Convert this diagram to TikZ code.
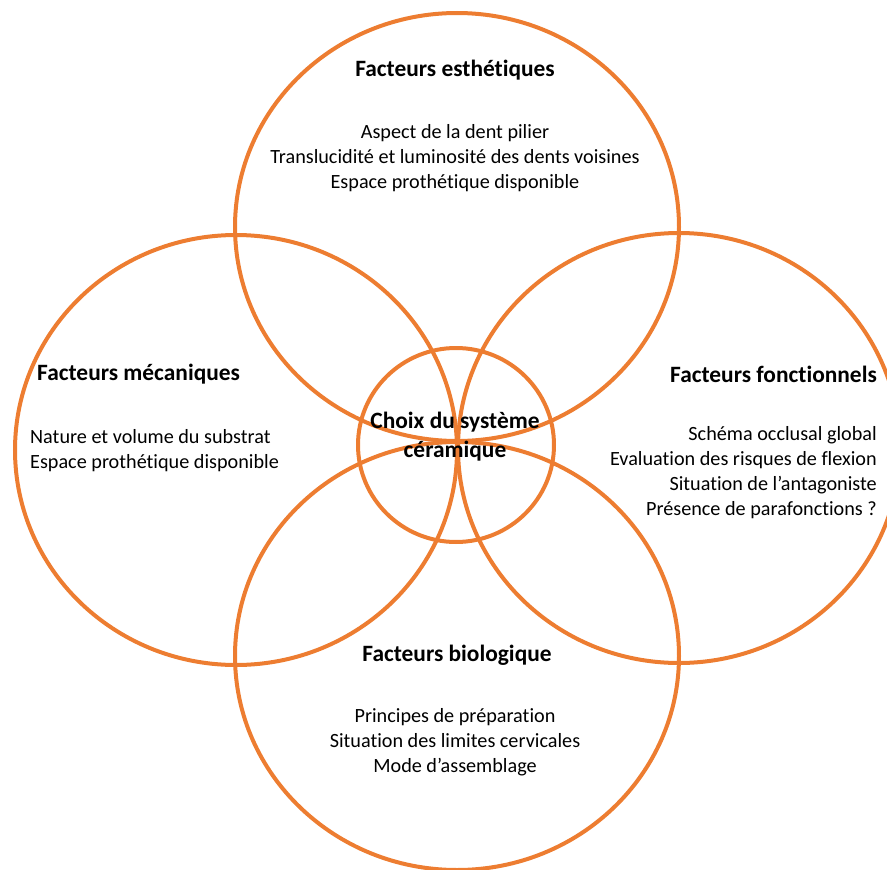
\documentclass[tikz,border=0pt]{standalone}
\usepackage{fontspec}
\setmainfont[Ligatures=NoCommon]{Carlito}
\usetikzlibrary{shapes.geometric}
\definecolor{ringorange}{HTML}{ED7D31}
\begin{document}
\begin{tikzpicture}[x=1pt,y=-1pt,
  ring/.style={ellipse,draw=ringorange,line width=4pt,inner sep=0pt,outer sep=0pt},
  head/.style={font=\fontsize{23.4}{29}\selectfont\bfseries,inner sep=0pt},
  body/.style={font=\fontsize{20.2}{24.8}\selectfont,inner sep=0pt}]
\useasboundingbox (0,0) rectangle (887,870);
\begin{scope}
\clip (0,0) rectangle (887,870);
\node[ring,minimum width=444pt,minimum height=428pt] (top) at (457,227) {};
\node[ring,minimum width=442pt,minimum height=430pt] (left) at (236,450) {};
\node[ring,minimum width=442pt,minimum height=430pt] (right) at (679,448) {};
\node[ring,minimum width=444pt,minimum height=428pt] (bottom) at (457,656) {};
\node[ring,minimum width=196pt,minimum height=194pt] (core) at (456,445) {};
\end{scope}
\node[head] (tH) at (455,70) {Facteurs esthétiques};
\node[body,align=center] (tB) at (455,158) {Aspect de la dent pilier\\Translucidité et luminosité des dents voisines\\Espace prothétique disponible};
\node[head,anchor=west] (lH) at (37,374) {Facteurs mécaniques};
\node[body,align=left,anchor=west] (lB) at (30,450.5) {Nature et volume du substrat\\Espace prothétique disponible};
\node[head,anchor=east] (rH) at (877,374) {Facteurs fonctionnels};
\node[body,align=right,anchor=east] (rB) at (877,472.5) {Schéma occlusal global\\Evaluation des risques de flexion\\Situation de l’antagoniste\\Présence de parafonctions ?};
\node[head,align=center] (cT) at (455,436.5) {Choix du système\\céramique};
\node[head] (bH) at (457,655) {Facteurs biologique};
\node[body,align=center] (bB) at (455,742.5) {Principes de préparation\\Situation des limites cervicales\\Mode d’assemblage};
\end{tikzpicture}
\end{document}
